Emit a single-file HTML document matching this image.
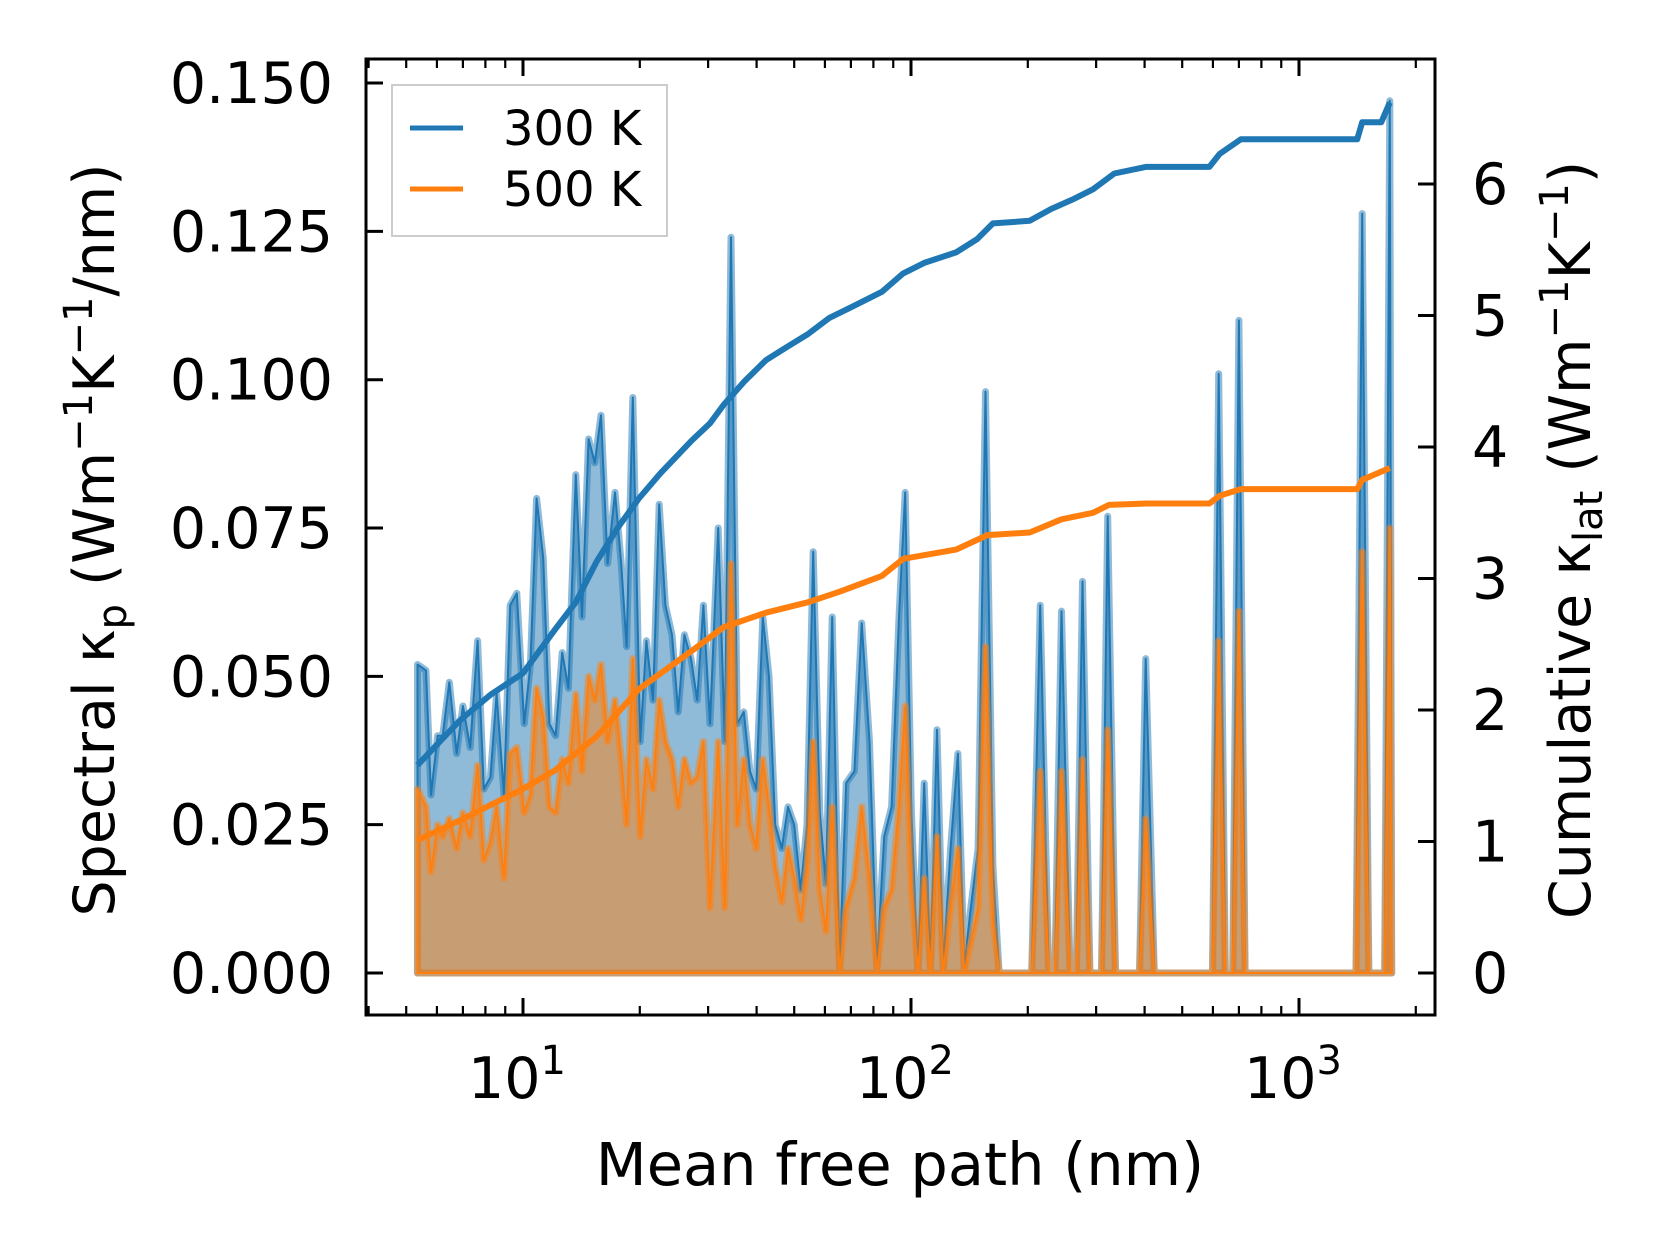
<!DOCTYPE html>
<html><head><meta charset="utf-8"><style>
html,body{margin:0;padding:0;background:#fff;}
svg{display:block;font-family:"DejaVu Sans","Liberation Sans",sans-serif;}
</style></head><body>
<svg id="chart" width="1660" height="1254" viewBox="0 0 1660 1254" xmlns="http://www.w3.org/2000/svg"></svg>
<script>
// log10 of mean free path (nm) for spectral samples
const logMfp = [0.728,0.750,0.763,0.780,0.793,0.810,0.829,0.845,0.864,0.883,0.899,0.916,0.932,0.951,0.967,0.984,1.003,1.019,1.035,1.052,1.068,1.084,1.101,1.117,1.136,1.152,1.169,1.185,1.201,1.218,1.237,1.253,1.267,1.283,1.302,1.318,1.335,1.351,1.367,1.384,1.400,1.416,1.433,1.449,1.465,1.482,1.503,1.520,1.536,1.552,1.569,1.585,1.601,1.618,1.634,1.650,1.667,1.683,1.699,1.716,1.732,1.748,1.765,1.781,1.797,1.816,1.833,1.854,1.873,1.893,1.912,1.931,1.950,1.969,1.985,2.001,2.018,2.034,2.050,2.067,2.083,2.102,2.121,2.137,2.154,2.173,2.192,2.211,2.227,2.311,2.333,2.355,2.371,2.388,2.410,2.426,2.442,2.461,2.491,2.507,2.527,2.589,2.605,2.627,2.777,2.793,2.810,2.829,2.845,2.861,3.147,3.163,3.180,3.221,3.234,3.239];
const spec300 = [0.052,0.051,0.030,0.040,0.040,0.049,0.037,0.045,0.038,0.056,0.031,0.033,0.047,0.030,0.062,0.064,0.042,0.052,0.080,0.070,0.042,0.040,0.054,0.048,0.084,0.060,0.090,0.086,0.094,0.069,0.081,0.069,0.055,0.097,0.039,0.056,0.046,0.079,0.062,0.057,0.044,0.057,0.053,0.046,0.062,0.042,0.075,0.039,0.124,0.042,0.044,0.034,0.031,0.060,0.050,0.025,0.021,0.028,0.025,0.014,0.025,0.071,0.027,0.015,0.060,0.001,0.032,0.034,0.059,0.039,0.001,0.023,0.028,0.060,0.081,0.027,0,0.032,0.001,0.041,0.001,0.021,0.037,0.001,0.011,0.021,0.098,0.018,0,0,0.062,0,0,0.061,0,0,0.066,0,0,0.077,0,0,0.053,0,0,0.101,0,0,0.110,0,0,0.128,0,0,0.147,0];
const spec500 = [0.031,0.028,0.017,0.025,0.023,0.026,0.021,0.027,0.023,0.035,0.019,0.022,0.028,0.016,0.037,0.038,0.027,0.030,0.048,0.043,0.028,0.027,0.036,0.032,0.047,0.034,0.050,0.046,0.052,0.039,0.046,0.036,0.025,0.053,0.023,0.036,0.031,0.046,0.039,0.036,0.028,0.036,0.032,0.033,0.039,0.011,0.039,0.011,0.069,0.025,0.036,0.025,0.021,0.036,0.028,0.018,0.012,0.021,0.016,0.009,0.018,0.039,0.014,0.007,0.028,0,0.011,0.016,0.028,0.016,0,0.011,0.014,0.028,0.045,0.014,0,0.016,0,0.023,0,0.011,0.021,0,0.005,0.011,0.055,0.009,0,0,0.034,0,0,0.034,0,0,0.036,0,0,0.041,0,0,0.026,0,0,0.056,0,0,0.061,0,0,0.071,0,0,0.075,0];
const cumLog300 = [0.728,0.837,0.918,1.0,1.082,1.136,1.190,1.245,1.299,1.354,1.435,1.482,1.517,1.571,1.626,1.680,1.735,1.789,1.844,1.925,1.980,2.034,2.116,2.170,2.211,2.306,2.361,2.415,2.469,2.524,2.605,2.769,2.796,2.850,3.150,3.163,3.212,3.234];
const cum300 = [1.58,1.92,2.12,2.28,2.61,2.82,3.13,3.39,3.61,3.80,4.05,4.18,4.32,4.50,4.66,4.76,4.86,4.98,5.06,5.18,5.32,5.40,5.48,5.58,5.70,5.72,5.81,5.88,5.96,6.08,6.13,6.13,6.23,6.34,6.34,6.47,6.47,6.62];
const cumLog500 = [0.728,0.837,0.918,1.0,1.082,1.190,1.299,1.435,1.517,1.626,1.735,1.816,1.925,1.980,2.116,2.197,2.306,2.388,2.469,2.510,2.605,2.769,2.796,2.850,3.150,3.163,3.234];
const cum500 = [1.01,1.16,1.28,1.40,1.54,1.80,2.16,2.45,2.63,2.74,2.82,2.90,3.02,3.15,3.22,3.33,3.35,3.45,3.50,3.56,3.57,3.57,3.63,3.68,3.68,3.75,3.84];
const leftTicks = [0,0.025,0.05,0.075,0.1,0.125,0.15];
const leftLabels = ["0.000","0.025","0.050","0.075","0.100","0.125","0.150"];
const rightTicks = [0,1,2,3,4,5,6];
const xDecades = [1,2,3];

const L=366,R=1435,T=59,B=1015;
const X = lg => 523 + 388*(lg-1);
const YL = v => 973 - v*5933;
const YR = v => 973 - v*131.5;
const NS="http://www.w3.org/2000/svg";
const svg=document.getElementById('chart');
function mk(tag,attrs,parent){const e=document.createElementNS(NS,tag);for(const k in attrs)e.setAttribute(k,attrs[k]);(parent||svg).appendChild(e);return e;}

const blue="#1f77b4", orange="#ff7f0e";
function specPath(vals){let d="M"+X(logMfp[0])+","+YL(0);for(let i=0;i<logMfp.length;i++)d+=" L"+X(logMfp[i]).toFixed(1)+","+YL(vals[i]).toFixed(1);d+=" L"+X(logMfp[logMfp.length-1])+","+YL(0)+" Z";return d;}
function linePath(xs,ys){return xs.map((x,i)=>(i?"L":"M")+X(x).toFixed(1)+","+YR(ys[i]).toFixed(1)).join(" ");}

let f1=mk('path',{d:specPath(spec300),fill:blue,'fill-opacity':0.5,stroke:blue,'stroke-opacity':0.5,'stroke-width':7,'stroke-linejoin':'round'});


let l1=mk('path',{d:specPath(spec300),fill:'none',stroke:blue,'stroke-width':2,'stroke-linejoin':'round'});


let f2=mk('path',{d:specPath(spec500),fill:orange,'fill-opacity':0.5,stroke:orange,'stroke-opacity':0.5,'stroke-width':7,'stroke-linejoin':'round'});


let l2=mk('path',{d:specPath(spec500),fill:'none',stroke:orange,'stroke-width':2,'stroke-linejoin':'round'});


let c1=mk('path',{d:linePath(cumLog300,cum300),fill:'none',stroke:blue,'stroke-width':6,'stroke-linejoin':'round'});


let c2=mk('path',{d:linePath(cumLog500,cum500),fill:'none',stroke:orange,'stroke-width':6,'stroke-linejoin':'round'});



let fr=mk('rect',{x:L,y:T,width:R-L,height:B-T,fill:'none',stroke:'#000','stroke-width':3});



leftTicks.forEach((v,i)=>{
  const y=YL(v);
  mk('line',{x1:L,x2:L+17,y1:y,y2:y,stroke:'#000','stroke-width':3});
  const t=mk('text',{x:333,y:y+20,'text-anchor':'end','font-size':57});
  t.textContent=leftLabels[i];
  
  
});
rightTicks.forEach(v=>{
  const y=YR(v);
  mk('line',{x1:R-17,x2:R,y1:y,y2:y,stroke:'#000','stroke-width':3});
  const t=mk('text',{x:1472,y:y+20,'font-size':57});
  t.textContent=String(v);
  
  
});
for(let dec=0;dec<=3;dec++){
  for(let m=1;m<10;m++){
    const lg=dec+Math.log10(m);
    const x=X(lg);
    if(x<L+2||x>R-2)continue;
    const len=m===1?17:9;
    mk('line',{x1:x,x2:x,y1:B,y2:B-len,stroke:'#000','stroke-width':m===1?3:2.2});
    mk('line',{x1:x,x2:x,y1:T,y2:T+len,stroke:'#000','stroke-width':m===1?3:2.2});
  }
}
xDecades.forEach(d=>{
  const t=mk('text',{x:X(d)-6,y:1098,'text-anchor':'middle','font-size':57});
  t.innerHTML='10<tspan dy="-24" font-size="40">'+d+'</tspan>';
  
  
});
</script>
<svg style="position:absolute;left:0;top:0" width="1660" height="1254" xmlns="http://www.w3.org/2000/svg" font-family="DejaVu Sans, Liberation Sans, sans-serif">
  <text x="900" y="1185" text-anchor="middle" font-size="59">Mean free path (nm)</text>
  <text transform="translate(114,540) rotate(-90)" text-anchor="middle" font-size="57">Spectral κ<tspan dy="12" font-size="40">p</tspan><tspan dy="-12"> (Wm</tspan><tspan dy="-22" font-size="40">−1</tspan><tspan dy="22">K</tspan><tspan dy="-22" font-size="40">−1</tspan><tspan dy="22">/nm)</tspan></text>
  <text transform="translate(1590,540) rotate(-90)" text-anchor="middle" font-size="57">Cumulative κ<tspan dy="12" font-size="40">lat</tspan><tspan dy="-12"> (Wm</tspan><tspan dy="-22" font-size="40">−1</tspan><tspan dy="22">K</tspan><tspan dy="-22" font-size="40">−1</tspan><tspan dy="22">)</tspan></text>
  <g>
    <rect x="392" y="85" width="275" height="151" fill="#fff" fill-opacity="0.8" stroke="#ccc" stroke-width="2"/>
    <line x1="410" x2="463" y1="128" y2="128" stroke="#1f77b4" stroke-width="5"/>
    <text x="503" y="145" font-size="48">300 K</text>
    <line x1="410" x2="463" y1="189" y2="189" stroke="#ff7f0e" stroke-width="5"/>
    <text x="503" y="206" font-size="48">500 K</text>
  </g>
</svg>
</body></html>
